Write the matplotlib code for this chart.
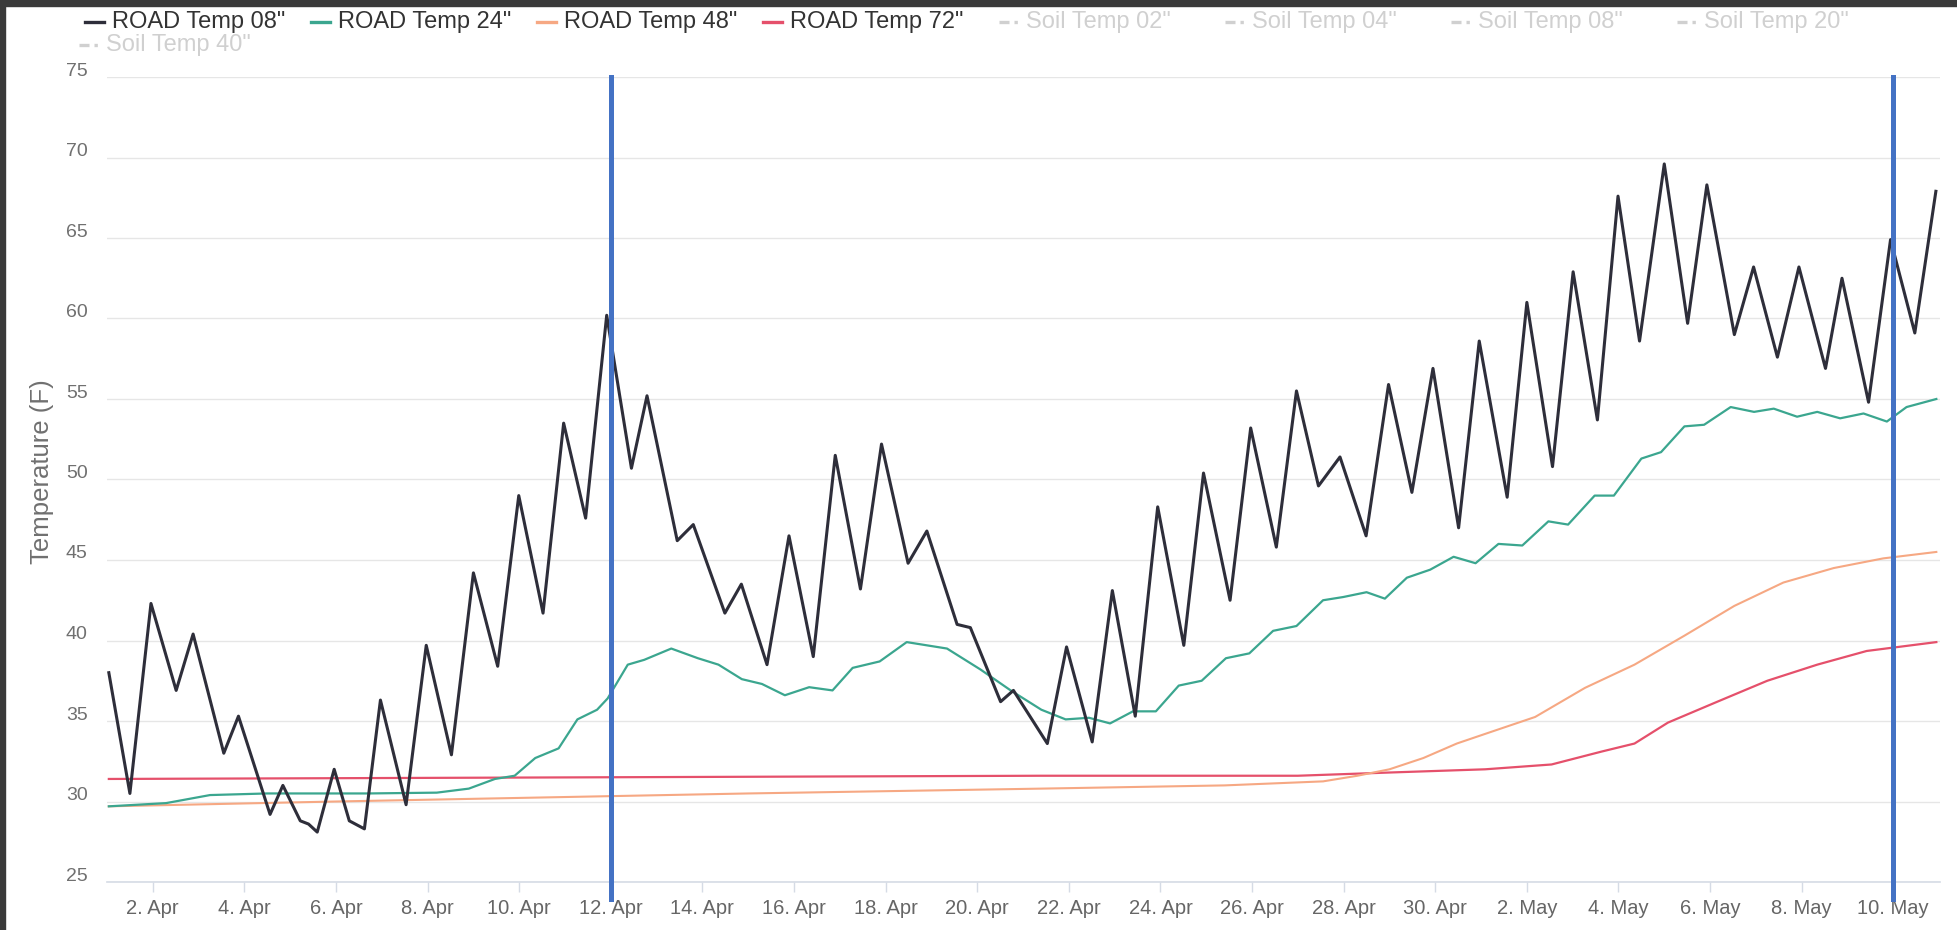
import matplotlib
matplotlib.use('Agg')
import matplotlib.pyplot as plt
import matplotlib.dates as mdates
from matplotlib.lines import Line2D
from matplotlib.patches import Rectangle
from matplotlib.transforms import ScaledTranslation
import numpy as np
import pandas as pd

plt.rcParams['font.family'] = ['Liberation Sans', 'DejaVu Sans']

# Data: offsets in days from 1 Apr 00:00 and temperatures (F)
start = pd.Timestamp('2019-04-01')

road08_days = [0.04, 0.50, 0.96, 1.51, 1.88, 2.55, 2.87, 3.56, 3.84, 4.22, 4.40, 4.59, 4.96,
               5.29, 5.62, 5.97, 6.53, 6.97, 7.52, 8.00, 8.53, 8.99, 9.52, 9.97, 10.45,
               10.91, 11.45, 11.79, 12.45, 12.80, 13.49, 13.85, 14.41, 14.89, 15.42, 15.90,
               16.45, 16.91, 17.49, 17.90, 18.56, 18.85, 19.51, 19.79, 20.53, 20.95, 21.51,
               21.95, 22.45, 22.94, 23.51, 23.94, 24.52, 24.97, 25.53, 25.97, 26.45, 26.92,
               27.49, 27.98, 28.49, 28.95, 29.51, 29.96, 30.57, 31.00, 31.56, 32.01, 32.54,
               32.99, 33.46, 34.00, 34.51, 34.93, 35.53, 35.95, 36.47, 36.94, 37.52, 37.88,
               38.46, 38.94, 39.47, 39.93]
road08_vals = [38.0, 30.5, 42.3, 36.9, 40.4, 33.0, 35.3, 29.2, 31.0, 28.8, 28.6, 28.1, 32.0,
               28.8, 28.3, 36.3, 29.8, 39.7, 32.9, 44.2, 38.4, 49.0, 41.7, 53.5, 47.6,
               60.2, 50.7, 55.2, 46.2, 47.2, 41.7, 43.5, 38.5, 46.5, 39.0, 51.5,
               43.2, 52.2, 44.8, 46.8, 41.0, 40.8, 36.2, 36.9, 33.6, 39.6, 33.7,
               43.1, 35.3, 48.3, 39.7, 50.4, 42.5, 53.2, 45.8, 55.5, 49.6, 51.4,
               46.5, 55.9, 49.2, 56.9, 47.0, 58.6, 48.9, 61.0, 50.8, 62.9, 53.7,
               67.6, 58.6, 69.6, 59.7, 68.3, 59.0, 63.2, 57.6, 63.2, 56.9, 62.5,
               54.8, 64.9, 59.1, 67.9]

road24_days = [0.04, 1.29, 2.25, 3.5, 5.7, 7.2, 7.9, 8.47, 8.9, 9.35, 9.86, 10.27, 10.7,
               10.93, 11.37, 11.73, 12.32, 12.9, 13.35, 13.86, 14.3, 14.8, 15.33, 15.84,
               16.28, 16.87, 17.46, 18.34, 19.07, 19.73, 20.4, 20.93, 21.44, 21.9, 22.4,
               22.9, 23.4, 23.9, 24.43, 24.94, 25.46, 25.97, 26.55, 26.99, 27.5, 27.9,
               28.38, 28.89, 29.4, 29.88, 30.38, 30.9, 31.47, 31.9, 32.48, 32.9, 33.5,
               33.93, 34.44, 34.87, 35.45, 35.96, 36.39, 36.9, 37.34, 37.84, 38.35, 38.86,
               39.29, 39.94]
road24_vals = [29.7, 29.9, 30.4, 30.5, 30.5, 30.55, 30.8, 31.4, 31.6, 32.7, 33.3, 35.1, 35.7,
               36.4, 38.5, 38.8, 39.5, 38.9, 38.5, 37.6, 37.3, 36.6, 37.1, 36.9,
               38.3, 38.7, 39.9, 39.5, 38.2, 36.9, 35.7, 35.1, 35.2, 34.85, 35.6,
               35.6, 37.2, 37.5, 38.9, 39.2, 40.6, 40.9, 42.5, 42.7, 43.0, 42.6,
               43.9, 44.4, 45.2, 44.8, 46.0, 45.9, 47.4, 47.2, 49.0, 49.0, 51.3,
               51.7, 53.3, 53.4, 54.5, 54.2, 54.4, 53.9, 54.2, 53.8, 54.1, 53.6,
               54.5, 55.0]

road48_days = [0.04, 5.0, 10.4, 14.0, 20.4, 24.4, 26.55, 27.3, 28.0, 28.74, 29.47, 30.09,
               31.18, 32.27, 33.35, 34.44, 35.53, 36.6, 37.7, 38.78, 39.94]
road48_vals = [29.7, 30.0, 30.3, 30.5, 30.8, 31.0, 31.25, 31.6, 32.0, 32.7, 33.6, 34.2,
               35.25, 37.06, 38.5, 40.3, 42.15, 43.6, 44.5, 45.1, 45.5]

road72_days = [0.04, 10.4, 20.4, 26.0, 28.0, 30.09, 31.54, 32.63, 33.35, 34.08, 35.16,
               36.25, 37.34, 38.42, 39.94]
road72_vals = [31.4, 31.5, 31.6, 31.6, 31.8, 32.0, 32.3, 33.1, 33.6, 34.9, 36.2,
               37.5, 38.5, 39.35, 39.9]

marker_days = [11, 39]  # 12 Apr and 10 May

names = ['ROAD Temp 08"', 'ROAD Temp 24"', 'ROAD Temp 48"', 'ROAD Temp 72"']
colors = ['#2e2e3a', '#3ba68f', '#f6a883', '#e5506b']
widths = [2.2, 1.6, 1.5, 1.6]
hidden_names = ['Soil Temp 02"', 'Soil Temp 04"', 'Soil Temp 08"', 'Soil Temp 20"', 'Soil Temp 40"']

series_days = [road08_days, road24_days, road48_days, road72_days]
series_vals = [road08_vals, road24_vals, road48_vals, road72_vals]

W, H = 1957, 930
fig = plt.figure(figsize=(W / 100, H / 100), dpi=100)
ax = fig.add_axes([107 / W, (H - 882) / H, (1940 - 107) / W, (882 - 77) / H])

def to_dates(days):
    return start + pd.to_timedelta(np.array(days), unit='D')

# draw order: deeper sensors first, 08" on top
for i in [2, 3, 1, 0]:
    ax.plot(to_dates(series_days[i]), series_vals[i], color=colors[i], lw=widths[i],
            solid_joinstyle='round', zorder=3 + (3 - i))

for d in marker_days:
    ax.axvline(start + pd.Timedelta(days=d), ymin=-0.021, ymax=1.0, color='#4472c4',
               lw=3.6, clip_on=False, zorder=10)

ax.set_xlim(start, start + pd.Timedelta(days=40.02))
ax.set_ylim(25, 75)
ax.set_yticks(np.arange(25, 80, 5))
ax.yaxis.grid(True, color='#e6e6e6', lw=1)
ax.set_axisbelow(True)
for s in ['top', 'right', 'left']:
    ax.spines[s].set_visible(False)
ax.spines['bottom'].set_color('#d5dbe5')
ax.spines['bottom'].set_linewidth(1.2)

ax.xaxis.set_major_locator(mdates.DayLocator(bymonthday=range(2, 32, 2)))
ax.xaxis.set_major_formatter(plt.FuncFormatter(
    lambda x, pos: f"{mdates.num2date(x).day}. {mdates.num2date(x):%b}"))
ax.tick_params(axis='x', length=7, width=1, color='#d5dbe5', labelsize=14.5,
               labelcolor='#666666', pad=5)
ax.tick_params(axis='y', length=0, labelsize=14, labelcolor='#707070', pad=14)
for lbl in ax.get_yticklabels():
    lbl.set_transform(lbl.get_transform() + ScaledTranslation(0, 8 / 100, fig.dpi_scale_trans))

fig.text(42 / W, 1 - 472 / H, 'Temperature (F)', rotation=90, ha='center', va='center',
         fontsize=18.5, color='#707070')

# legend (Highcharts style, hidden series greyed out)
def fx(x):
    return x / W

def fy(y):
    return 1 - y / H

step = 226
items = [(n, c, True) for n, c in zip(names, colors)] + [(n, '#d0d0d0', False) for n in hidden_names]
for k, (name, col, visible) in enumerate(items):
    row, colnum = divmod(k, 8)
    x0 = 85 + colnum * step - (6 if row else 0) + (10 if colnum >= 4 else 0)
    yc = 22 + row * 23
    ls = '-' if visible else (0, (3, 1.5, 1, 1.5))
    fig.add_artist(Line2D([fx(x0), fx(x0 + 19)], [fy(yc), fy(yc)], transform=fig.transFigure,
                          color=col, lw=2.4, linestyle=ls))
    fig.text(fx(x0 + 27), fy(yc), name, ha='left', va='center', fontsize=17,
             color='#333333' if visible else '#d0d0d0')

# dark screenshot frame
fig.add_artist(Rectangle((0, 0), 5 / W, 1, transform=fig.transFigure, color='#3a3a3a', zorder=20))
fig.add_artist(Rectangle((0, 1 - 6 / H), 1, 6 / H, transform=fig.transFigure, color='#3a3a3a', zorder=20))

fig.savefig('out.png', dpi=100, facecolor='white')
